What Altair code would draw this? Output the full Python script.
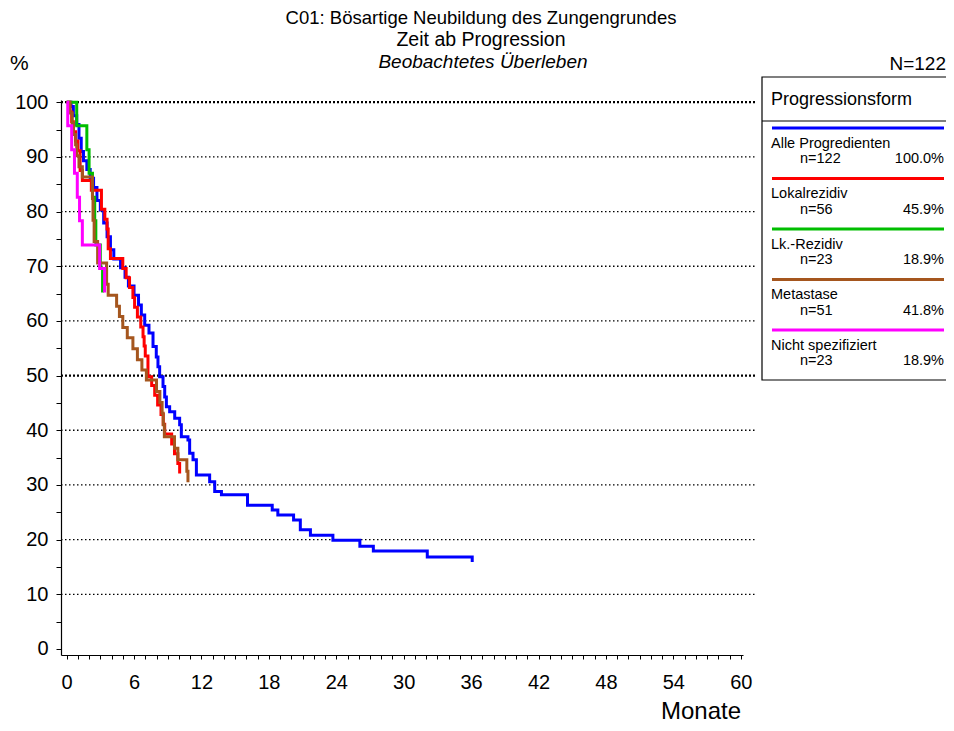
import altair as alt
import pandas as pd

FONT = "Liberation Sans"

# ---------------- data ----------------
groups = ["Alle Progredienten", "Lokalrezidiv", "Lk.-Rezidiv", "Metastase", "Nicht spezifiziert"]
colors = ["#0000FF", "#FF0000", "#00BE00", "#A5561E", "#FF00FF"]
n_labels = ["n=122", "n=56", "n=23", "n=51", "n=23"]
pct_labels = ["100.0%", "45.9%", "18.9%", "41.8%", "18.9%"]

alle_t = [0, 0.4, 0.6, 0.9, 1.1, 1.3, 1.5, 1.8, 2.1, 2.4, 2.7, 3.0, 3.3, 3.6, 3.9, 4.2, 4.8, 5.2, 5.5, 6.0,
          6.4, 6.65, 6.95, 7.33, 7.69, 7.98, 8.13, 8.28, 8.58, 8.73, 8.88, 9.17, 9.62, 10.06, 10.21, 10.8,
          10.95, 11.25, 11.55, 12.73, 13.18, 13.78, 16.1, 18.3, 18.8, 20.2, 20.8, 21.7, 23.7, 26.1, 27.3,
          32.1, 36.1]
alle_s = [100, 99.2, 97.5, 95.9, 93.4, 91.0, 89.3, 87.7, 86.1, 84.4, 82.0, 80.3, 77.9, 75.4, 73.0, 71.3,
          69.7, 68.0, 66.4, 64.7, 62.9, 61.1, 59.2, 57.8, 55.3, 53.4, 51.6, 49.8, 48.0, 46.1, 44.3, 43.4,
          42.2, 41.0, 38.8, 38.2, 35.8, 34.6, 31.8, 30.6, 28.8, 28.2, 26.3, 25.4, 24.5, 23.6, 21.8, 20.8,
          19.9, 18.8, 17.9, 16.8, 15.9]

lok_t = [0, 0.3, 0.45, 0.6, 0.8, 1.0, 1.2, 1.4, 2.2, 3.1, 3.4, 3.6, 3.7, 3.9, 5.0, 5.3, 5.6, 5.9, 6.05,
         6.3, 6.6, 6.8, 6.9, 7.0, 7.24, 7.57, 7.84, 8.1, 8.4, 8.6, 8.73, 9.35, 9.6, 9.9, 10.06]
lok_s = [100, 98.2, 96.4, 94.6, 92.9, 91.1, 87.5, 85.7, 83.9, 80.4, 78.6, 76.8, 73.2, 71.4, 69.6, 67.9,
         66.1, 64.3, 62.5, 60.7, 58.9, 57.1, 55.4, 53.6, 49.8, 48.2, 46.4, 44.6, 42.9, 41.1, 39.3, 37.5,
         35.7, 33.9, 32.1]

lk_t = [0, 0.9, 1.8, 2.0, 2.3, 2.5, 2.6, 3.0, 3.2]
lk_s = [100, 95.7, 91.3, 87.0, 82.6, 78.3, 73.9, 69.6, 65.2]

met_t = [0, 0.3, 0.5, 0.6, 0.8, 0.9, 1.1, 1.4, 2.3, 2.35, 2.45, 2.76, 3.56, 3.7, 4.45, 4.7, 5.0, 5.4,
         5.9, 6.3, 6.7, 7.1, 8.0, 8.3, 8.5, 8.6, 8.7, 9.6, 9.9, 10.7, 10.8]
met_s = [100, 98.0, 96.1, 94.1, 92.2, 90.2, 88.2, 86.3, 82.4, 78.4, 74.5, 70.6, 66.7, 64.7, 62.7, 60.8,
         58.8, 56.9, 54.9, 52.9, 51.0, 49.2, 47.1, 45.1, 43.1, 41.0, 38.8, 36.7, 34.6, 32.5, 30.5]

ns_t = [0, 0.1, 0.45, 0.7, 0.95, 1.15, 1.4, 2.94, 3.38]
ns_s = [100, 95.7, 91.3, 87.0, 82.6, 78.3, 73.9, 69.6, 65.2]

series_t = [alle_t, lok_t, lk_t, met_t, ns_t]
series_s = [alle_s, lok_s, lk_s, met_s, ns_s]

grid_thin = [10, 20, 30, 40, 60, 70, 80, 90]
grid_thick = [50, 100]
x_ticks = list(range(0, 61))
y_ticks = list(range(0, 101, 5))

# ---------------- chart ----------------
W, H = 682, 555
xs = alt.Scale(domain=[-0.5, 60.2], nice=False, zero=False)
ys = alt.Scale(domain=[-1.1, 100.4], nice=False, zero=False)
one = pd.DataFrame({"k": [0]})

x_axis = alt.Axis(values=x_ticks, labelExpr="datum.value % 6 === 0 ? datum.label : ''",
                  tickSize=4, tickColor="black", domainColor="black", domainWidth=1.2, tickWidth=1,
                  labelFont=FONT, labelFontSize=20, labelColor="black", labelPadding=13,
                  labelOverlap=False, labelFlush=False, grid=False, title=None)
y_axis = alt.Axis(values=y_ticks, labelExpr="datum.value % 10 === 0 ? datum.label : ''",
                  tickSize=5, tickColor="black", domainColor="black", domainWidth=1.2, tickWidth=1,
                  labelFont=FONT, labelFontSize=20, labelColor="black", labelPadding=8,
                  labelOverlap=False, labelFlush=False, grid=False, title=None)

layers = []

g1 = pd.DataFrame({"s": grid_thin, "t": -0.5, "t2": 61.3})
layers.append(alt.Chart(g1).mark_rule(color="black", strokeWidth=1.3, strokeDash=[1.5, 2.5]).encode(
    x=alt.X("t:Q", scale=xs, axis=x_axis), x2="t2:Q",
    y=alt.Y("s:Q", scale=ys, axis=y_axis)))
g2 = pd.DataFrame({"s": grid_thick, "t": -0.5, "t2": 61.3})
layers.append(alt.Chart(g2).mark_rule(color="black", strokeWidth=2.2, strokeDash=[2, 2]).encode(
    x=alt.X("t:Q", scale=xs, axis=x_axis), x2="t2:Q",
    y=alt.Y("s:Q", scale=ys, axis=y_axis)))

for name, col, tt, ss in zip(groups, colors, series_t, series_s):
    df = pd.DataFrame({"t": tt, "s": ss, "o": list(range(len(tt)))})
    layers.append(alt.Chart(df).mark_line(interpolate="step-after", strokeWidth=3, color=col).encode(
        x=alt.X("t:Q", scale=xs, axis=x_axis),
        y=alt.Y("s:Q", scale=ys, axis=y_axis),
        order="o:Q"))

def txt(text, x, y, size, align="center", style="normal", baseline="alphabetic"):
    return alt.Chart(one).mark_text(text=text, font=FONT, fontSize=size, align=align,
                                    baseline=baseline, fontStyle=style, color="black").encode(
        x=alt.value(x), y=alt.value(y))

# titles
layers.append(txt("C01: Bösartige Neubildung des Zungengrundes", 420, -76, 18.5))
layers.append(txt("Zeit ab Progression", 420, -54, 19.5))
layers.append(txt("Beobachtetes Überleben", 422, -32, 19, style="italic"))
layers.append(txt("%", -51, -30, 21, align="left"))
layers.append(txt("N=122", 885, -30, 19, align="right"))
layers.append(txt("Monate", 680, 619, 24, align="right"))

# legend box
layers.append(alt.Chart(one).mark_rect(fill="white", stroke="black", strokeWidth=1.2).encode(
    x=alt.value(701), x2=alt.value(886), y=alt.value(-23), y2=alt.value(280)))
layers.append(alt.Chart(one).mark_rule(color="black", strokeWidth=1.2).encode(
    x=alt.value(701), x2=alt.value(886), y=alt.value(21)))
layers.append(txt("Progressionsform", 710, 0, 18, align="left", baseline="middle"))

for i, (name, col, nl, pl) in enumerate(zip(groups, colors, n_labels, pct_labels)):
    ly = 28 + 50.5 * i
    layers.append(alt.Chart(one).mark_rule(color=col, strokeWidth=3).encode(
        x=alt.value(711), x2=alt.value(883), y=alt.value(ly)))
    layers.append(txt(name, 710, ly + 19.5, 14.5, align="left"))
    layers.append(txt(nl, 739, ly + 35, 14.5, align="left"))
    layers.append(txt(pl, 883, ly + 35, 14.5, align="right"))

chart = alt.layer(*layers).properties(
    width=W, height=H,
    autosize=alt.AutoSizeParams(type="none"),
    padding={"left": 53, "top": 92, "right": 203, "bottom": 68},
    background="white",
).configure_view(stroke=None)

chart.save("out.html", embed_options={"renderer": "svg", "actions": False})
